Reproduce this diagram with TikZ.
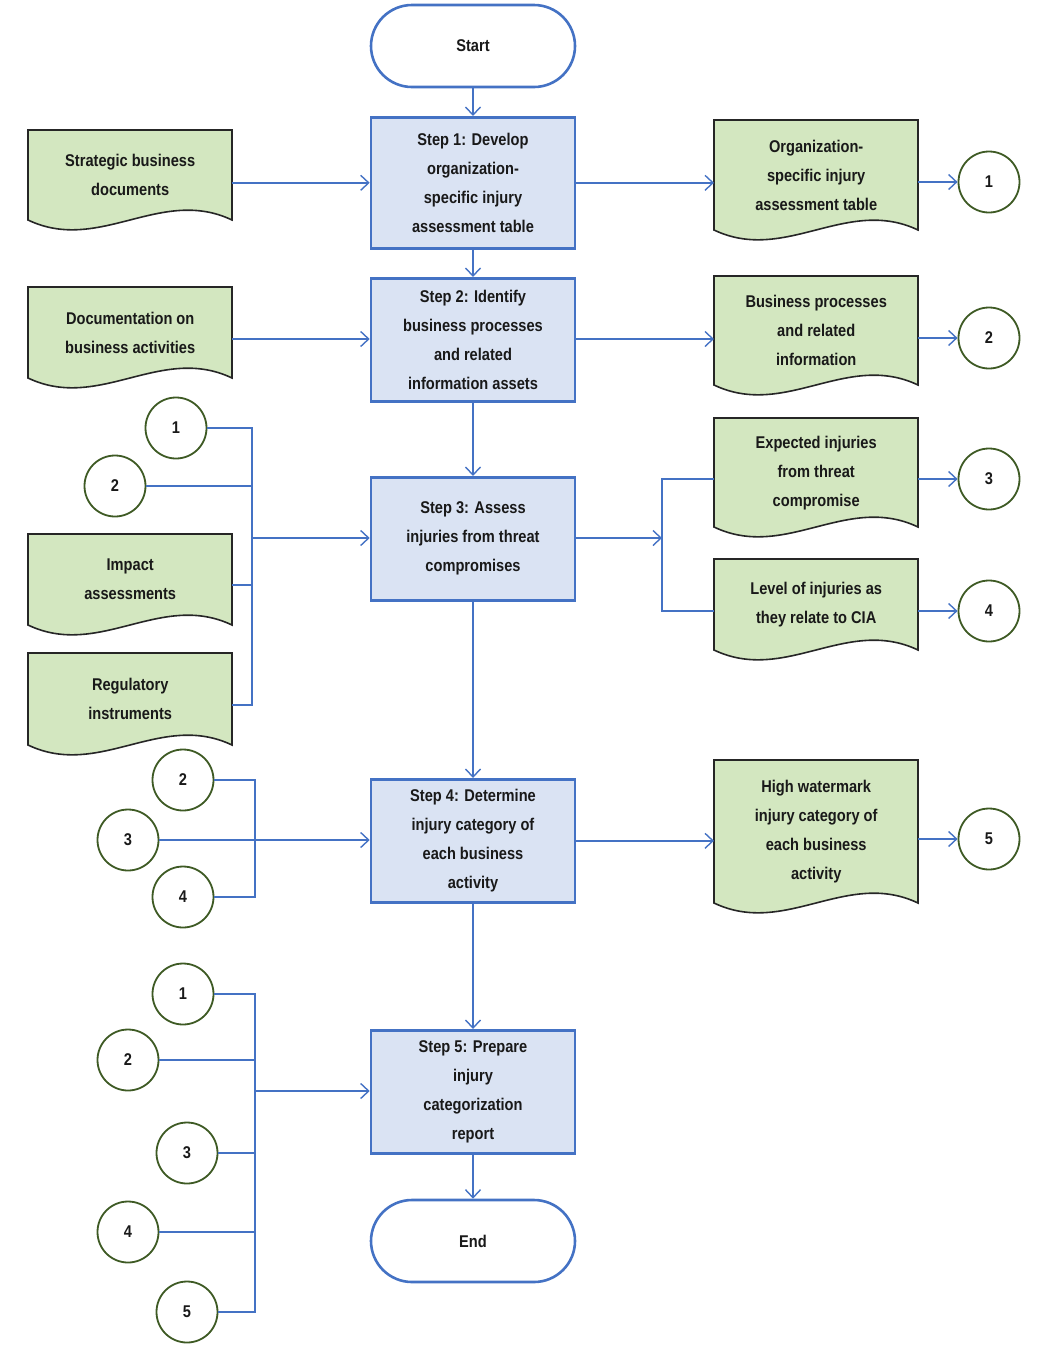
\documentclass[tikz,border=0pt]{standalone}
\usepackage{fontspec}
\setmainfont{Liberation Sans}[FakeStretch=0.86]
\usetikzlibrary{arrows.meta,calc}
\definecolor{bl}{HTML}{4472C4}
\definecolor{bfill}{HTML}{DAE3F3}
\definecolor{gfill}{HTML}{D3E7C0}
\definecolor{gline}{HTML}{3E5A24}
\tikzset{
 x=1pt,y=-1pt,
 txt/.style={font=\bfseries\fontsize{17}{29}\selectfont,align=center,text=black!90},
 stepbox/.style={txt,draw=bl,line width=2.6pt,fill=bfill,minimum width=204,anchor=north,inner sep=0},
 term/.style={txt,draw=bl,line width=2.6pt,fill=white,rounded corners=41,minimum width=204,minimum height=82,inner sep=0},
 docst/.style={draw=black!85,line width=1.6pt,fill=gfill},
 docnode/.style={txt,inner sep=0,anchor=north west},
 circ/.style={txt,circle,draw=gline,line width=1.8pt,fill=white,minimum size=61,inner sep=0},
 ln/.style={draw=bl,line width=1.4pt},
 arr/.style={ln,-{Straight Barb[length=8pt,width=15pt,line width=1.4pt]}},
}
\newcommand\docn[6]{%
 \draw[docst] (#2,#3) -- (#4,#3) -- (#4,#5) .. controls ({#4-0.35*(#4-#2)},{#5-34}) and ({#2+0.35*(#4-#2)},{#5+34}) .. (#2,#5) -- cycle;
 \node[docnode,minimum width={#4-#2},minimum height={#5-#3}] (#1) at (#2,#3) {#6};}
\begin{document}
\begin{tikzpicture}
\useasboundingbox (0,0) rectangle (1045,1350);
\node[term] (start) at (473,46) {Start};
\node[stepbox,minimum height=131] (s1) at (473,116) {Step 1: Develop\\organization-\\specific injury\\assessment table};
\node[stepbox,minimum height=123] (s2) at (473,277) {Step 2: Identify\\business processes\\and related\\information assets};
\node[stepbox,minimum height=123] (s3) at (473,476) {Step 3: Assess\\injuries from threat\\compromises};
\node[stepbox,minimum height=123] (s4) at (473,778) {Step 4: Determine\\injury category of\\each business\\activity};
\node[stepbox,minimum height=123] (s5) at (473,1029) {Step 5: Prepare\\injury\\categorization\\report};
\node[term] (end) at (473,1241) {End};

\docn{strat}{28}{130}{232}{220}{Strategic business\\documents}
\docn{doca}{28}{287}{232}{378}{Documentation on\\business activities}
\docn{imp}{28}{534}{232}{625}{Impact\\assessments}
\docn{reg}{28}{653}{232}{745}{Regulatory\\instruments}
\docn{org}{714}{120}{918}{230}{Organization-\\specific injury\\assessment table}
\docn{bp}{714}{276}{918}{385}{Business processes\\and related\\information}
\docn{exp}{714}{418}{918}{527}{Expected injuries\\from threat\\compromise}
\docn{lev}{714}{559}{918}{650}{Level of injuries as\\they relate to CIA}
\docn{hw}{714}{760}{918}{903}{High watermark\\injury category of\\each business\\activity}

\node[circ] (r1) at (989,182) {1};
\node[circ] (r2) at (989,338) {2};
\node[circ] (r3) at (989,479) {3};
\node[circ] (r4) at (989,611) {4};
\node[circ] (r5) at (989,839) {5};
\node[circ] (a1) at (176,428) {1};
\node[circ] (a2) at (115,486) {2};
\node[circ] (b2) at (183,780) {2};
\node[circ] (b3) at (128,840) {3};
\node[circ] (b4) at (183,897) {4};
\node[circ] (c1) at (183,994) {1};
\node[circ] (c2) at (128,1060) {2};
\node[circ] (c3) at (187,1153) {3};
\node[circ] (c4) at (128,1232) {4};
\node[circ] (c5) at (187,1312) {5};

\draw[arr] (start) -- (s1);
\draw[arr] (s1) -- (s2);
\draw[arr] (s2) -- (s3);
\draw[arr] (s3) -- (s4);
\draw[arr] (s4) -- (s5);
\draw[arr] (s5) -- (end);

\draw[arr] (strat.east |- s1) -- (s1);
\draw[arr] (doca.east |- 0,339) -- (s2.west |- 0,339);
\draw[arr] (s1) -- (org.west |- s1);
\draw[arr] (org.east |- r1) -- (r1);
\draw[arr] (s2.east |- 0,339) -- (bp.west |- 0,339);
\draw[arr] (bp.east |- r2) -- (r2);
\draw[arr] (exp.east |- r3) -- (r3);
\draw[arr] (lev.east |- r4) -- (r4);
\draw[arr] (s4) -- (hw.west |- s4);
\draw[arr] (hw.east |- r5) -- (r5);

\coordinate (sp) at (662,538);
\draw[arr] (s3.east |- sp) -- (sp);
\draw[ln] (exp.west |- r3) -| (sp) |- (lev.west |- r4);

\coordinate (j3) at (252,538);
\draw[ln] (a1.east) -| (j3);
\draw[ln] (a2.east) -| (j3);
\draw[ln] (imp.east |- 0,585) -| (j3);
\draw[ln] (reg.east |- 0,705) -| (j3);
\draw[arr] (j3) -- (s3.west |- j3);

\coordinate (j4) at (255,840);
\draw[ln] (b2.east) -| (j4);
\draw[ln] (b4.east) -| (j4);
\draw[arr] (b3.east) -- (s4.west |- b3);

\coordinate (j5) at (255,1091);
\draw[ln] (c1.east) -| (j5);
\draw[ln] (c2.east) -| (j5);
\draw[ln] (c3.east) -| (j5);
\draw[ln] (c4.east) -| (j5);
\draw[ln] (c5.east) -| (j5);
\draw[arr] (j5) -- (s5.west |- j5);
\end{tikzpicture}
\end{document}
